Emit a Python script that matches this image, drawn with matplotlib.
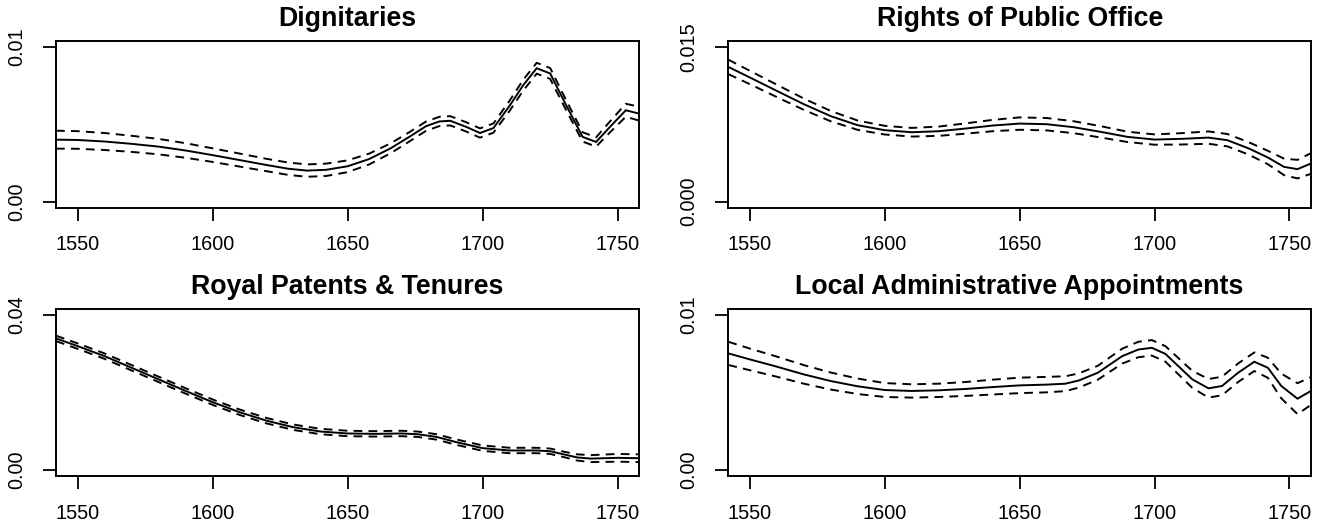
import matplotlib

matplotlib.use("Agg")
import matplotlib.pyplot as plt

plt.rcParams["font.family"] = ["Liberation Sans", "DejaVu Sans"]

# smoothed rates with pointwise confidence bands
years_dign = [1542, 1550, 1560, 1570, 1580, 1590, 1600, 1610, 1620, 1628, 1635, 1642, 1650,
              1658, 1666, 1673, 1679, 1684, 1688, 1694, 1699, 1704, 1710, 1715, 1720, 1725,
              1731, 1737, 1742, 1747, 1753, 1758]
fit_dign = [0.00400, 0.00398, 0.00388, 0.00373, 0.00355, 0.00330, 0.00300, 0.00268, 0.00236,
            0.00212, 0.00200, 0.00205, 0.00228, 0.00275, 0.00345, 0.00420, 0.00487, 0.00518,
            0.00522, 0.00482, 0.00443, 0.00475, 0.00620, 0.00752, 0.00862, 0.00828, 0.00620,
            0.00418, 0.00385, 0.00480, 0.00590, 0.00568]
upper_dign = [0.00458, 0.00455, 0.00443, 0.00425, 0.00405, 0.00377, 0.00344, 0.00310, 0.00276,
              0.00252, 0.00240, 0.00245, 0.00266, 0.00310, 0.00377, 0.00450, 0.00517, 0.00548,
              0.00552, 0.00512, 0.00473, 0.00505, 0.00653, 0.00787, 0.00897, 0.00863, 0.00652,
              0.00448, 0.00415, 0.00515, 0.00632, 0.00613]
lower_dign = [0.00342, 0.00341, 0.00333, 0.00321, 0.00305, 0.00283, 0.00256, 0.00226, 0.00196,
              0.00172, 0.00160, 0.00165, 0.00190, 0.00240, 0.00313, 0.00390, 0.00457, 0.00488,
              0.00492, 0.00452, 0.00413, 0.00445, 0.00587, 0.00717, 0.00827, 0.00793, 0.00588,
              0.00388, 0.00355, 0.00445, 0.00548, 0.00523]

years_rights = [1542, 1550, 1560, 1570, 1580, 1590, 1600, 1610, 1620, 1630, 1640, 1650, 1660,
                1670, 1680, 1690, 1700, 1710, 1720, 1727, 1735, 1742, 1748, 1753, 1758]
fit_rights = [0.01306, 0.01203, 0.01073, 0.00944, 0.00828, 0.00740, 0.00692, 0.00672, 0.00682,
              0.00708, 0.00737, 0.00756, 0.00750, 0.00721, 0.00676, 0.00627, 0.00601, 0.00608,
              0.00620, 0.00595, 0.00514, 0.00427, 0.00336, 0.00314, 0.00369]
upper_rights = [0.01376, 0.01268, 0.01133, 0.00999, 0.00878, 0.00785, 0.00734, 0.00714, 0.00727,
                0.00758, 0.00792, 0.00816, 0.00810, 0.00779, 0.00731, 0.00677, 0.00651, 0.00663,
                0.00680, 0.00655, 0.00574, 0.00492, 0.00416, 0.00404, 0.00469]
lower_rights = [0.01236, 0.01138, 0.01013, 0.00889, 0.00778, 0.00695, 0.00650, 0.00630, 0.00637,
                0.00658, 0.00682, 0.00696, 0.00690, 0.00663, 0.00621, 0.00577, 0.00551, 0.00553,
                0.00560, 0.00535, 0.00454, 0.00362, 0.00256, 0.00224, 0.00269]

years_royal = [1542, 1550, 1560, 1570, 1580, 1590, 1600, 1610, 1620, 1630, 1640, 1650, 1660,
               1670, 1676, 1683, 1690, 1700, 1710, 1720, 1725, 1730, 1735, 1740, 1750, 1758]
fit_royal = [0.0340, 0.0320, 0.0294, 0.0264, 0.0234, 0.0204, 0.0175, 0.0149, 0.0127, 0.0110,
             0.0099, 0.0094, 0.0093, 0.0094, 0.0092, 0.0085, 0.0072, 0.0056, 0.0050, 0.0050,
             0.0048, 0.0040, 0.0032, 0.0029, 0.0031, 0.0030]
upper_royal = [0.0347, 0.0327, 0.0301, 0.0271, 0.0241, 0.0211, 0.0182, 0.0156, 0.0134, 0.0117,
               0.0106, 0.0101, 0.0100, 0.0101, 0.0099, 0.0092, 0.0079, 0.0063, 0.0057, 0.0057,
               0.0055, 0.0047, 0.0040, 0.0038, 0.0041, 0.0040]
lower_royal = [0.0333, 0.0313, 0.0287, 0.0257, 0.0227, 0.0197, 0.0168, 0.0142, 0.0120, 0.0103,
               0.0092, 0.0087, 0.0086, 0.0087, 0.0085, 0.0078, 0.0065, 0.0049, 0.0043, 0.0043,
               0.0041, 0.0033, 0.0024, 0.0020, 0.0021, 0.0020]

years_local = [1542, 1550, 1560, 1570, 1580, 1590, 1600, 1610, 1620, 1630, 1640, 1650, 1660,
               1667, 1672, 1679, 1688, 1694, 1699, 1704, 1714, 1720, 1725, 1731, 1737, 1742,
               1747, 1753, 1758]
fit_local = [0.00753, 0.00714, 0.00667, 0.00617, 0.00574, 0.00540, 0.00516, 0.00510, 0.00514,
             0.00523, 0.00535, 0.00546, 0.00551, 0.00557, 0.00578, 0.00628, 0.00735, 0.00778,
             0.00789, 0.00750, 0.00585, 0.00527, 0.00542, 0.00628, 0.00699, 0.00660, 0.00542,
             0.00460, 0.00510]
upper_local = [0.00828, 0.00784, 0.00732, 0.00677, 0.00629, 0.00590, 0.00561, 0.00553, 0.00557,
               0.00568, 0.00583, 0.00596, 0.00601, 0.00605, 0.00624, 0.00673, 0.00783, 0.00828,
               0.00839, 0.00800, 0.00640, 0.00587, 0.00602, 0.00688, 0.00759, 0.00725, 0.00622,
               0.00560, 0.00600]
lower_local = [0.00678, 0.00644, 0.00602, 0.00557, 0.00519, 0.00490, 0.00471, 0.00467, 0.00471,
               0.00478, 0.00487, 0.00496, 0.00501, 0.00509, 0.00532, 0.00583, 0.00687, 0.00728,
               0.00739, 0.00700, 0.00530, 0.00467, 0.00482, 0.00568, 0.00639, 0.00595, 0.00462,
               0.00360, 0.00420]

titles = ["Dignitaries", "Rights of Public Office", "Royal Patents & Tenures",
          "Local Administrative Appointments"]
y_ticks = [[0.0, 0.01], [0.0, 0.015], [0.0, 0.04], [0.0, 0.01]]
y_ticklabels = [["0.00", "0.01"], ["0.000", "0.015"], ["0.00", "0.04"], ["0.00", "0.01"]]
x_ticks = [1550, 1600, 1650, 1700, 1750]

panels = [
    (years_dign, fit_dign, upper_dign, lower_dign),
    (years_rights, fit_rights, upper_rights, lower_rights),
    (years_royal, fit_royal, upper_royal, lower_royal),
    (years_local, fit_local, upper_local, lower_local),
]

W, H = 1329, 531
fig = plt.figure(figsize=(W / 100, H / 100), dpi=100)

# axes boxes in pixels: (left, top, right, bottom)
boxes = [(56, 40.7, 639.3, 207.7), (728.3, 40.7, 1311, 207.7),
         (56, 309, 639.3, 476), (728.3, 309, 1311, 476)]

LW = 1.4
for i, (yrs, fit, up, lo) in enumerate(panels):
    l, t, r, b = boxes[i]
    ax = fig.add_axes([l / W, 1 - b / H, (r - l) / W, (b - t) / H])
    ax.plot(yrs, fit, color="black", lw=LW, solid_joinstyle="miter")
    ax.plot(yrs, up, color="black", lw=LW, linestyle=(0, (4.5, 3.2)))
    ax.plot(yrs, lo, color="black", lw=LW, linestyle=(0, (4.5, 3.2)))

    ax.set_xlim(1542, 1758)
    y0, y1 = y_ticks[i]
    pad = 0.04 * (y1 - y0)
    ax.set_ylim(y0 - pad, y1 + pad)

    ax.set_xticks(x_ticks)
    ax.set_xticklabels([str(x) for x in x_ticks])
    ax.set_yticks(y_ticks[i])
    ax.set_yticklabels(y_ticklabels[i], rotation=90, va="center")

    ax.tick_params(axis="x", direction="out", length=9.5, width=1.3, pad=10.5,
                   labelsize=14.3)
    ax.tick_params(axis="y", direction="out", length=9.5, width=1.3, pad=12,
                   labelsize=14.3)
    for s in ax.spines.values():
        s.set_linewidth(1.4)
    ax.set_title(titles[i], fontsize=19.3, fontweight="bold", pad=10.8)

fig.savefig("out.png", dpi=100)
